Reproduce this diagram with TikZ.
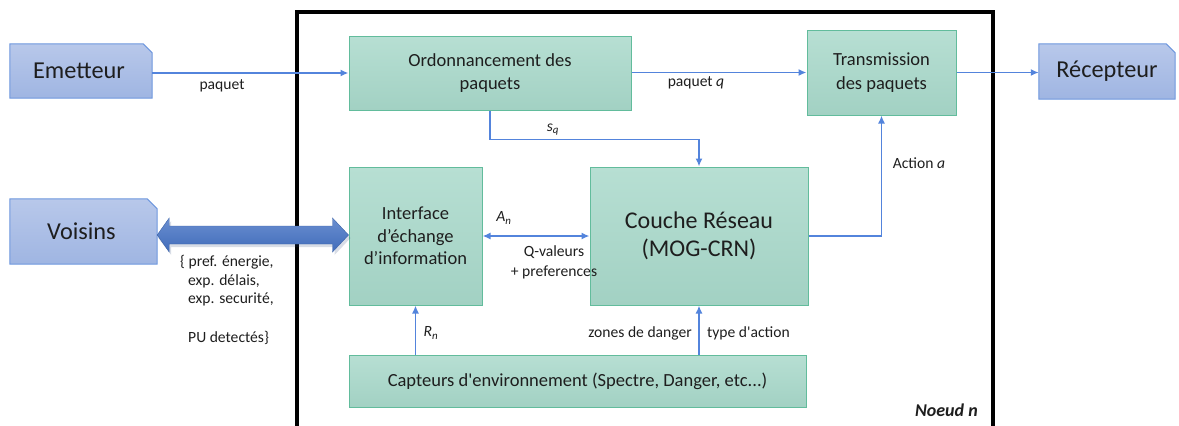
\documentclass[tikz,border=0pt]{standalone}
\usepackage{fontspec}
\setmainfont{Carlito}[Ligatures=TeXOff]
\usetikzlibrary{arrows.meta,calc}
\definecolor{gtop}{HTML}{B7DFD3}
\definecolor{gbot}{HTML}{A2D1C3}
\definecolor{gline}{HTML}{62BC9C}
\definecolor{btop}{HTML}{B8C8EA}
\definecolor{bbot}{HTML}{9FB5E2}
\definecolor{bline}{HTML}{6E97DE}
\definecolor{conn}{HTML}{5384DC}
\definecolor{fat}{HTML}{4472C4}
\definecolor{txt}{HTML}{1E1E1E}
\tikzset{
  gbox/.style={draw=gline, line width=1pt, top color=gtop, bottom color=gbot,
    align=center, inner sep=0pt, text=txt, font=\fontsize{18.5}{23.5}\selectfont},
  bholder/.style={inner sep=0pt, text=txt, font=\fontsize{24.3}{28}\selectfont},
  bshape/.style={draw=bline, line width=1pt, top color=btop, bottom color=bbot},
  link/.style={draw=conn, line width=1.8pt, -{Latex[length=8pt,width=7pt]}},
  dlink/.style={draw=conn, line width=1.8pt, {Latex[length=8pt,width=7pt]}-{Latex[length=8pt,width=7pt]}},
  lbl/.style={inner sep=0pt, text=txt, font=\fontsize{15.6}{19}\selectfont},
}
\newcommand{\foldbox}[2]{%
  \path[bshape] (#1.south west) -- (#1.north west) -- ($(#1.north east)+(-#2,0)$)
    -- ($(#1.north east)+(0,#2)$) -- (#1.south east) -- cycle;}
\begin{document}
\begin{tikzpicture}[x=1pt,y=-1pt]
\useasboundingbox (0,0) rectangle (1179,426);

% node frame
\draw[line width=4pt] (297,440) -- (297,12) -- (993,12) -- (993,440);

% outer blue boxes
\node[bholder, minimum width=142pt, minimum height=54pt] (em) at (81,71) {};
\foldbox{em}{9}
\node[bholder] at ([xshift=-2pt]em) {Emetteur};
\node[bholder, minimum width=136pt, minimum height=55pt] (rec) at (1107,71.5) {};
\foldbox{rec}{9}
\node[bholder] at (rec) {Récepteur};
\node[bholder, minimum width=147pt, minimum height=65pt] (vois) at (83.5,231.5) {};
\foldbox{vois}{10}
\node[bholder] at ([xshift=-2pt]vois) {Voisins};

% inner green boxes
\node[gbox, minimum width=282pt, minimum height=74pt] (ord) at (490,73)
  {Ordonnancement des\\paquets};
\node[gbox, minimum width=149pt, minimum height=85pt] (trans) at (881.5,72.5)
  {Transmission\\des paquets};
\node[gbox, minimum width=133pt, minimum height=138pt,
  font=\fontsize{18.5}{22.5}\selectfont] (int) at (415.5,236)
  {Interface\\d’échange\\d’information};
\node[gbox, minimum width=218pt, minimum height=138pt,
  font=\fontsize{24}{28.5}\selectfont] (couche) at (699,236)
  {Couche Réseau\\(MOG-CRN)};
\node[gbox, minimum width=457pt, minimum height=52pt] (cap) at (577.5,381)
  {Capteurs d'environnement (Spectre, Danger, etc...)};

% connectors
\draw[link] (em.east |- ord.west) -- (ord.west);
\draw[link] (ord.east |- trans.west) -- (trans.west);
\draw[link] (trans.east) -- (trans.east -| rec.west);
\draw[link] (ord.south) -- ++(0,29) -| (couche.north);
\draw[link] (couche.east) -| (trans.south);
\draw[dlink] (int.east) -- (couche.west);
\draw[link] (cap.north -| int.south) -- (int.south);
\draw[link] (cap.north -| couche.south) -- (couche.south);

% wide exchange arrow (soft shadow, then the arrow body)
\fill[fat!60!black, opacity=0.18]
  ($(vois.east |- int.west)+(1,2)$) -- ($(vois.east |- int.west)+(14,-15)$)
  -- ($(vois.east |- int.west)+(14,-7)$) -- ($(int.west)+(-14,-7)$)
  -- ($(int.west)+(-14,-15)$) -- ($(int.west)+(2,2)$) -- ($(int.west)+(-14,19)$)
  -- ($(int.west)+(-14,11)$) -- ($(vois.east |- int.west)+(14,11)$)
  -- ($(vois.east |- int.west)+(14,19)$) -- cycle;
\shade[top color=fat!80, bottom color=fat!95!black, draw=fat!85!black, line width=0.4pt]
  ($(vois.east |- int.west)+(0,-1)$) -- ($(vois.east |- int.west)+(12,-18)$)
  -- ($(vois.east |- int.west)+(12,-10)$) -- ($(int.west)+(-16,-10)$)
  -- ($(int.west)+(-16,-18)$) -- ($(int.west)+(0,-1)$) -- ($(int.west)+(-16,16)$)
  -- ($(int.west)+(-16,8)$) -- ($(vois.east |- int.west)+(12,8)$)
  -- ($(vois.east |- int.west)+(12,16)$) -- cycle;

% labels
\node[lbl] (lpaq) at (222,86) {paquet};
\node[lbl] (lpaqq) at (696,83) {paquet \textit{q}};
\node[lbl] (lsq) at (553,130) {\textit{s}\textsubscript{\textit{q}}};
\node[lbl] (lact) at (919,163) {Action \textit{a}};
\node[lbl] (lan) at (504,218) {\textit{A}\textsubscript{\textit{n}}};
\node[lbl, align=center] (lq) at (554,262) {Q-valeurs\\[1pt]+ preferences};
\node[lbl] (lrn) at (431,333) {\textit{R}\textsubscript{\textit{n}}};
\node[lbl, anchor=east] (lz) at (692,333) {zones de danger};
\node[lbl, anchor=west] (lt) at (707,333) {type d'action};
\node[lbl, anchor=west] (lb1) at (180,262) {\{ pref. énergie,};
\node[lbl, anchor=west] (lb2) at (188,281) {exp. délais,};
\node[lbl, anchor=west] (lb3) at (188,299) {exp. securité,};
\node[lbl, anchor=west] (lb4) at (188,338) {PU detectés\}};
\node[lbl, anchor=east, font=\fontsize{18}{20}\selectfont\bfseries\itshape] (noeud) at (978,410) {Noeud n};
\end{tikzpicture}
\end{document}
